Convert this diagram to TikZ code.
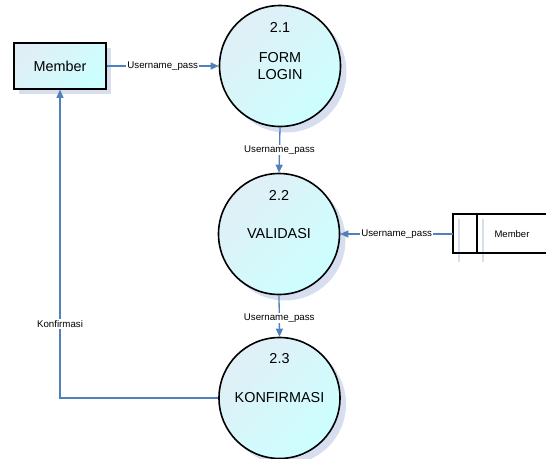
\documentclass[tikz,border=0pt]{standalone}
\usepackage{fontspec}
\setmainfont{Liberation Sans}
\usetikzlibrary{arrows.meta}

\definecolor{flow}{HTML}{4F81BD}
\definecolor{shadowc}{HTML}{D6DEF0}
\definecolor{fillA}{HTML}{E0EFF6}
\definecolor{fillB}{HTML}{CCFFFF}

\tikzset{
  process/.style={circle, draw=black, line width=1.6pt, minimum size=121pt,
    inner sep=0pt, top color=fillA, bottom color=fillB, shading angle=45},
  procshadow/.style={circle, fill=shadowc, minimum size=121pt, inner sep=0pt},
  entity/.style={rectangle, draw=black, line width=1.6pt, minimum width=92pt,
    minimum height=46pt, top color=fillA, bottom color=fillB, shading angle=45,
    font=\fontsize{14.4}{16}\selectfont},
  bigtext/.style={font=\fontsize{14.4}{17}\selectfont, align=center, inner sep=0pt},
  flowlabel/.style={font=\fontsize{9.7}{11}\selectfont, fill=white, inner sep=1pt},
  flowline/.style={draw=flow, line width=1.3pt, -{Triangle[length=8pt,width=7pt]}},
}

\begin{document}
\begin{tikzpicture}[x=1pt,y=-1pt]
\useasboundingbox (0,0) rectangle (546,458);

% drop shadows
\node[procshadow] at (286,72) {};
\node[procshadow] at (285,240) {};
\node[procshadow] at (285.5,404) {};
\fill[shadowc] (19,48) rectangle (111,94);

% external entity
\node[entity] (member) at (60,66) {Member};

% processes
\node[process] (p21) at (280,66) {};
\node[bigtext] (n21) at (280,27) {2.1};
\node[bigtext] (t21) at (280,66) {FORM\\LOGIN};

\node[process] (p22) at (279,234) {};
\node[bigtext] (n22) at (279,195) {2.2};
\node[bigtext] (t22) at (279,234) {VALIDASI};

\node[process] (p23) at (279.5,398) {};
\node[bigtext] (n23) at (279.5,359) {2.3};
\node[bigtext] (t23) at (279.5,398) {KONFIRMASI};

% data store
\draw[shadowc, line width=1.2pt] (459,219) -- (459,262) (483,219) -- (483,262);
\draw[black, line width=1.6pt] (546,214) -- (453,214) -- (453,253) -- (546,253);
\draw[black, line width=1.6pt] (477,214) -- (477,253);
\coordinate (store) at (453,234);
\node[font=\fontsize{9.5}{11}\selectfont] (storename) at (512,234) {Member};

% data flows
\draw[flowline] (member.east) -- node[flowlabel] {Username\_pass} (p21.west);
\draw[flowline] (p21.south) -- node[flowlabel] {Username\_pass} (p22.north);
\draw[flowline] (store) -- node[flowlabel] {Username\_pass} (p22.east);
\draw[flowline] (p22.south) -- node[flowlabel, pos=0.55] {Username\_pass} (p23.north);
\coordinate (bend) at (60,398);
\draw[flowline] (p23.west) -- (bend) -- node[flowlabel, pos=0.24] {Konfirmasi} (member.south);
\end{tikzpicture}
\end{document}
